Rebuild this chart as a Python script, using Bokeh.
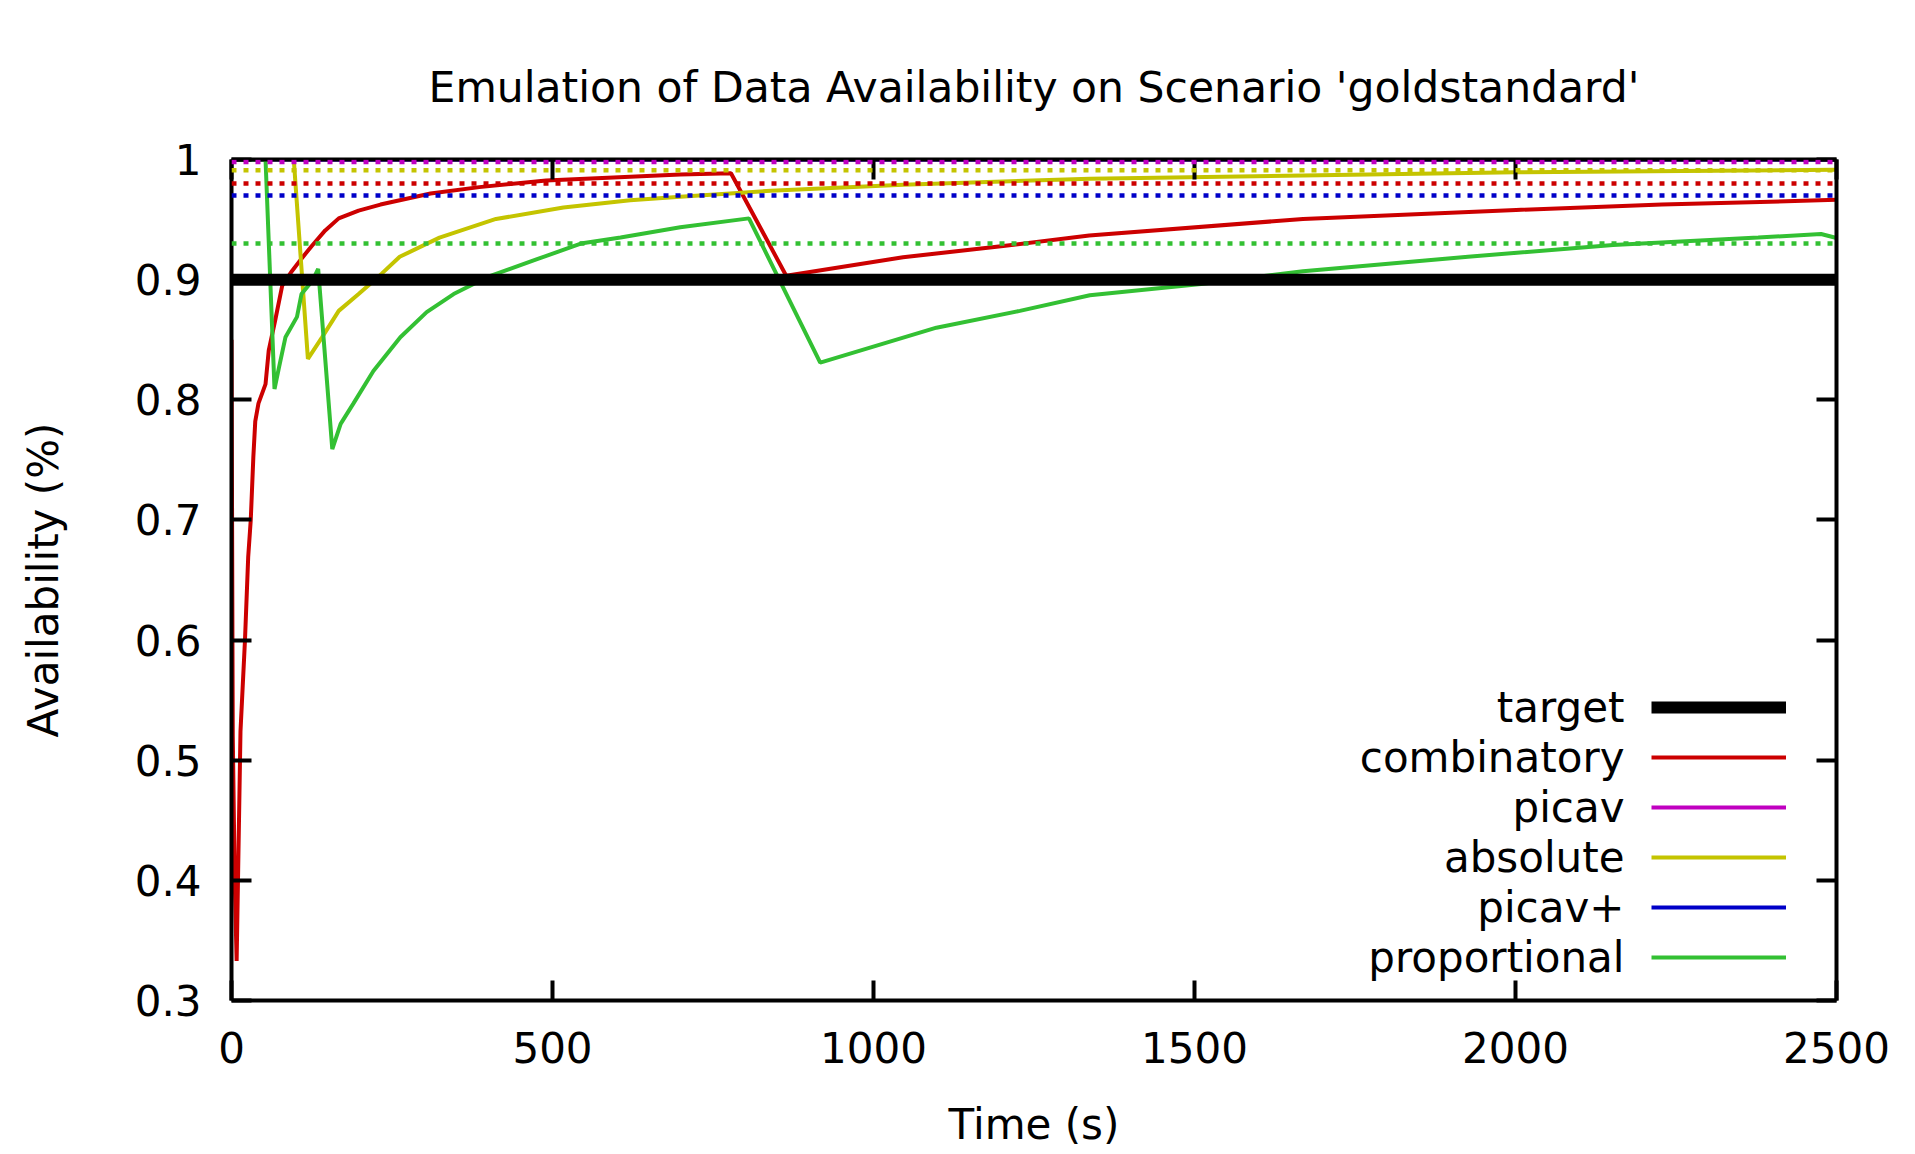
from bokeh.plotting import figure
from bokeh.models import Range1d, LinearAxis, FixedTicker, Span, Legend, LegendItem, Label
from bokeh.core.properties import value
from bokeh.embed import file_html
from bokeh.resources import INLINE

# ---------------- data ----------------
title_text = "Emulation of Data Availability on Scenario 'goldstandard'"
x_label = "Time (s)"
y_label = "Availability (%)"

x_ticks = [0, 500, 1000, 1500, 2000, 2500]
x_tick_labels = ["0", "500", "1000", "1500", "2000", "2500"]
y_ticks = [0.3, 0.4, 0.5, 0.6, 0.7, 0.8, 0.9, 1.0]
y_tick_labels = ["0.3", "0.4", "0.5", "0.6", "0.7", "0.8", "0.9", "1"]

legend_names = ["target", "combinatory", "picav", "absolute", "picav+", "proportional"]

target_x = [0, 2500]
target_y = [0.9, 0.9]

combinatory_x = [0, 2, 5, 8, 14, 21, 26, 30, 34, 37, 42, 53, 58, 68, 79, 94, 109, 125,
                 146, 167, 198, 232, 310, 386, 490, 595, 699, 778, 864, 1046, 1202,
                 1336, 1669, 2001, 2228, 2500]
combinatory_y = [0.85, 0.52, 0.40, 0.333, 0.524, 0.600, 0.669, 0.700, 0.752, 0.782,
                 0.797, 0.813, 0.841, 0.866, 0.895, 0.907, 0.9175, 0.928, 0.941, 0.951,
                 0.9575, 0.9625, 0.9717, 0.977, 0.9825, 0.985, 0.9875, 0.9886, 0.9033,
                 0.9186, 0.928, 0.9367, 0.9505, 0.958, 0.9625, 0.9664]

picav_x = [0, 2500]
picav_y = [1.0, 1.0]

absolute_x = [0, 97, 119, 141, 167, 198, 234, 262, 324, 412, 517, 621, 699, 840, 1046,
              1337, 1669, 2001, 2500]
absolute_y = [1.0, 1.0, 0.834, 0.852, 0.874, 0.888, 0.905, 0.919, 0.935, 0.9505, 0.960,
              0.966, 0.969, 0.974, 0.979, 0.984, 0.9867, 0.9894, 0.9914]

picavplus_x = [0, 2500]
picavplus_y = [1.0, 1.0]

proportional_x = [0, 53, 67, 74, 84, 102, 109, 126, 135, 157, 170, 190, 221, 263, 304,
                  346, 398, 476, 544, 606, 699, 806, 917, 1098, 1228, 1337, 1510, 1669,
                  1926, 2152, 2378, 2476, 2500]
proportional_y = [1.0, 1.0, 0.809, 0.827, 0.852, 0.869, 0.888, 0.899, 0.909, 0.759, 0.780,
                  0.797, 0.824, 0.852, 0.873, 0.888, 0.902, 0.917, 0.930, 0.935, 0.9436,
                  0.951, 0.831, 0.860, 0.874, 0.887, 0.8964, 0.907, 0.919, 0.9289, 0.935,
                  0.938, 0.9347]

# mean availability (dotted reference lines)
mean_combinatory = 0.980
mean_picav = 0.998
mean_absolute = 0.991
mean_picavplus = 0.970
mean_proportional = 0.930

# ---------------- style ----------------
FONT = "DejaVu Sans"
FS = "42px"
C_TARGET = "#000000"
C_COMB = "#cc0000"
C_PICAV = "#c000c0"
C_ABS = "#c4c400"
C_PICAVP = "#0000c8"
C_PROP = "#33c033"
LW = 4

p = figure(width=1907, height=1151, output_backend="svg", toolbar_location=None,
           x_range=Range1d(0, 2500), y_range=Range1d(0.3, 1.0),
           min_border_left=231, min_border_right=71, min_border_top=159, min_border_bottom=151)

p.title.text = title_text
p.title.text_font = FONT
p.title.text_font_size = "42.5px"
p.title.text_font_style = "normal"
p.title.text_color = "black"
p.title.align = "center"
p.title.standoff = 96

p.xgrid.visible = False
p.ygrid.visible = False
p.outline_line_color = None
p.background_fill_color = "white"
p.border_fill_color = "white"


def style_axis(ax, ticks, labels, show_labels=True):
    ax.ticker = FixedTicker(ticks=ticks)
    ax.major_label_overrides = {t: (l if show_labels else "") for t, l in zip(ticks, labels)}
    ax.axis_line_color = "black"
    ax.axis_line_width = 4
    ax.major_tick_in = 20
    ax.major_tick_out = 0
    ax.major_tick_line_width = 4
    ax.major_tick_line_color = "black"
    ax.minor_tick_line_color = None
    ax.major_label_text_font = FONT
    ax.major_label_text_font_size = FS
    ax.major_label_text_color = "black"
    ax.axis_label_text_font = FONT
    ax.axis_label_text_font_size = FS
    ax.axis_label_text_font_style = "normal"
    ax.axis_label_text_color = "black"


style_axis(p.xaxis[0], x_ticks, x_tick_labels)
p.xaxis[0].axis_label = x_label
p.xaxis[0].major_label_standoff = 31
p.xaxis[0].axis_label_standoff = 34

style_axis(p.yaxis[0], y_ticks, y_tick_labels)
p.yaxis[0].axis_label = y_label
p.yaxis[0].major_label_standoff = 30
p.yaxis[0].axis_label_standoff = 64

top_ax = LinearAxis()
style_axis(top_ax, x_ticks, x_tick_labels, show_labels=False)
top_ax.major_label_standoff = 0
p.add_layout(top_ax, "above")

right_ax = LinearAxis()
style_axis(right_ax, y_ticks, y_tick_labels, show_labels=False)
right_ax.major_label_standoff = 0
p.add_layout(right_ax, "right")

# ---------------- series ----------------
r_comb = p.line(combinatory_x, combinatory_y, line_color=C_COMB, line_width=LW)
r_picav = p.line(picav_x, picav_y, line_color=C_PICAV, line_width=LW)
r_abs = p.line(absolute_x, absolute_y, line_color=C_ABS, line_width=LW)
r_picavp = p.line(picavplus_x, picavplus_y, line_color=C_PICAVP, line_width=LW)
r_prop = p.line(proportional_x, proportional_y, line_color=C_PROP, line_width=LW)

for loc, col in [(mean_combinatory, C_COMB), (mean_picav, C_PICAV), (mean_absolute, C_ABS),
                 (mean_picavplus, C_PICAVP), (mean_proportional, C_PROP)]:
    p.add_layout(Span(location=loc, dimension="width", line_color=col,
                      line_width=4.5, line_dash="5 7"))

r_target = p.line(target_x, target_y, line_color=C_TARGET, line_width=12)

# ---------------- legend (gnuplot style: text right-aligned, sample on right) ----------------
renderers = [r_target, r_comb, r_picav, r_abs, r_picavp, r_prop]
items = [LegendItem(label=value(""), renderers=[r]) for r in renderers]
legend = Legend(items=items, location=(1420, 18), glyph_width=135, glyph_height=50,
                spacing=0, padding=0, margin=0, label_standoff=0, label_width=0,
                label_height=0, border_line_alpha=0, background_fill_alpha=0,
                label_text_font_size="1px")
p.add_layout(legend, "center")

for i, name in enumerate(legend_names):
    p.add_layout(Label(x=1393, y=293 - 50 * i, x_units="screen", y_units="screen",
                       text=name, text_align="right", text_baseline="middle",
                       text_font=FONT, text_font_size=FS, text_color="black"))

open("out.html", "w").write(file_html(p, INLINE))
